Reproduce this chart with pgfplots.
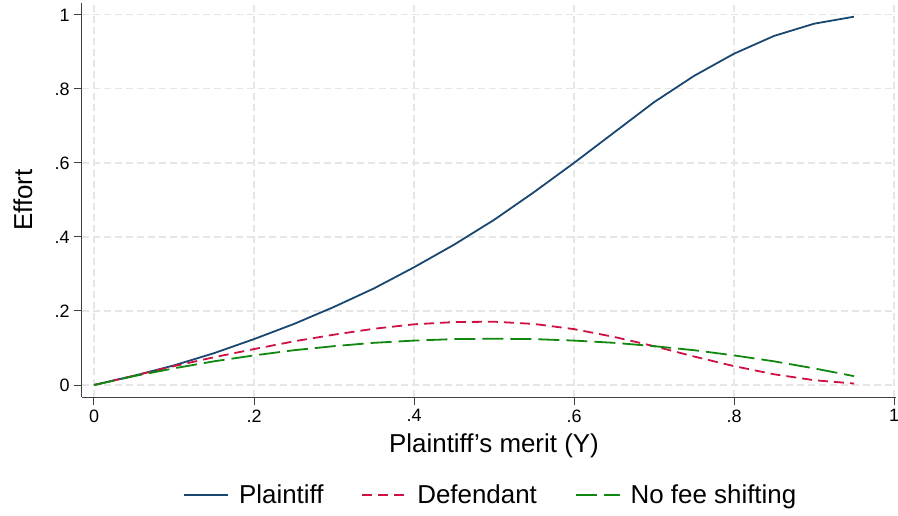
\documentclass[border=0pt]{standalone}
\usepackage{fontspec}
\setmainfont{Liberation Sans}
\usepackage{pgfplots}
\pgfplotsset{compat=1.18}

\definecolor{stnavy}{RGB}{26,71,111}
\definecolor{stred}{RGB}{206,16,66}
\definecolor{stgreen}{RGB}{16,136,16}
\definecolor{gridgray}{RGB}{230,230,230}

\begin{document}
\begin{tikzpicture}
\begin{axis}[
    scale only axis,
    width=814bp, height=394bp,
    xmin=-0.015, xmax=1.0025,
    ymin=-0.0324, ymax=1.032,
    axis lines=left,
    axis line style={-, black!75, line width=1bp},
    tick style={black!75, line width=1bp},
    tick align=outside,
    major tick length=8bp,
    xtick={0,0.2,0.4,0.6,0.8,1},
    xticklabels={0,.2,.4,.6,.8,1},
    ytick={0,0.2,0.4,0.6,0.8,1},
    yticklabels={0,.2,.4,.6,.8,1},
    /pgf/number format/assume math mode=true,
    ticklabel style={font=\fontsize{18}{21}\selectfont},
    xticklabel style={yshift=-1bp},
    yticklabel style={xshift=-1bp},
    grid=major,
    grid style={gridgray, line width=1.2bp, dash pattern=on 7bp off 4bp},
    xlabel={Plaintiff’s merit (Y)},
    ylabel={Effort},
    label style={font=\fontsize{26}{30}\selectfont},
    xlabel style={at={(axis cs:0.5,-0.0324)}, anchor=center, yshift=-49bp},
    ylabel style={at={(rel axis cs:0,0.5)}, anchor=center, xshift=0bp, yshift=59bp},
    legend columns=3,
    legend style={draw=none, fill=none, at={(axis cs:0.496,-0.0324)}, anchor=center,
        yshift=-98bp, font=\fontsize{26}{30}\selectfont,
        /tikz/every odd column/.append style={column sep=8bp},
        /tikz/every even column/.append style={column sep=36bp}},
    legend image code/.code={\draw[#1] (0bp,0bp) -- (44bp,0bp);},
]
\addplot[stnavy, line width=1.8bp] coordinates {
    (0,0) (0.05,0.025) (0.1,0.053) (0.15,0.086) (0.2,0.124) (0.25,0.165)
    (0.3,0.211) (0.35,0.261) (0.4,0.318) (0.45,0.379) (0.5,0.446)
    (0.55,0.521) (0.6,0.600) (0.65,0.682) (0.7,0.764) (0.75,0.835)
    (0.8,0.895) (0.85,0.943) (0.9,0.976) (0.95,0.995)
};
\addlegendentry{Plaintiff}
\addplot[stred, line width=1.8bp, dash pattern=on 10bp off 6bp] coordinates {
    (0,0) (0.05,0.025) (0.1,0.051) (0.15,0.075) (0.2,0.097) (0.25,0.118)
    (0.3,0.136) (0.35,0.152) (0.4,0.164) (0.45,0.170) (0.5,0.171)
    (0.55,0.165) (0.6,0.151) (0.65,0.130) (0.7,0.105) (0.75,0.077)
    (0.8,0.051) (0.85,0.029) (0.9,0.013) (0.95,0.004)
};
\addlegendentry{Defendant}
\addplot[stgreen, line width=1.8bp, dash pattern=on 21bp off 7bp] coordinates {
    (0,0) (0.05,0.024) (0.1,0.045) (0.15,0.064) (0.2,0.080) (0.25,0.094)
    (0.3,0.105) (0.35,0.114) (0.4,0.120) (0.45,0.124) (0.5,0.125)
    (0.55,0.124) (0.6,0.120) (0.65,0.114) (0.7,0.105) (0.75,0.094)
    (0.8,0.080) (0.85,0.064) (0.9,0.045) (0.95,0.024)
};
\addlegendentry{No fee shifting}
\end{axis}
\pgfresetboundingbox
\path (-82bp,-119bp) rectangle (816bp,397bp);
\end{tikzpicture}
\end{document}
